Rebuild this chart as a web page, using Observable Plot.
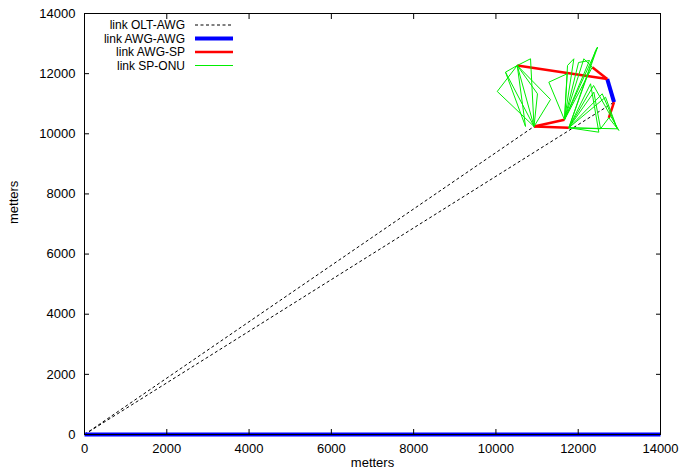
<!DOCTYPE html>
<html><head><meta charset="utf-8">
<script src="https://cdn.jsdelivr.net/npm/d3@7"></script>
<script src="https://cdn.jsdelivr.net/npm/@observablehq/plot@0.6"></script>
<style>body{margin:0;background:#fff}</style>
</head><body><div id="chart"></div>
<script>
const xTicks = [0, 2000, 4000, 6000, 8000, 10000, 12000, 14000];
const yTicks = [0, 2000, 4000, 6000, 8000, 10000, 12000, 14000];
const axisLabelX = "metters";
const axisLabelY = "metters";
const seriesNames = ["link OLT-AWG", "link AWG-AWG", "link AWG-SP", "link SP-ONU"];

// network nodes (metres)
const nodeNames = ["OLT","END","N1","N2","N3","N4","N5","N6","N7","N8","A","B","C","D","E","F","V1","V2","V3","V4","P","R1","R2","R3","R4","R5","R6","W1","W2","Q1","Q2","Q3","H","G"];
const nodeX = [0,14000,10518,12705,12871,12744,10926,11667,11772,12341,10841,10233,10032,11327,11733,11286,11740,11894,12137,12421,12470,12380,12664,12949,12543,12373,12988,12008,12275,12300,12584,12501,10719,11010];
const nodeY = [0,0,12271,11822,11051,10532,10243,10466,10200,12215,12494,12049,11407,11140,11996,11716,12271,12494,12494,12770,12880,11384,11217,10166,10166,11606,10110,12371,12438,11663,11330,10053,10243,11330];

const oltAwgLinks = [["OLT","N5"],["OLT","N3"]];
const awgAwgLinks = [["N2","N3"],["OLT","END"]];
const awgSpLinks = [["N1","N2"],["N8","N2"],["N3","N4"],["N5","N6"],["N5","N7"]];
const spOnuPaths = [
  ["N5","A","N1","B","N5"],
  ["N5","C","N1","D","N5"],
  ["N1","N5"],
  ["N1","H","B"],
  ["N1","G","N5"],
  ["N6","F","E","N6"],
  ["N6","V1","V2","N6"],
  ["N6","V3","N8","N6"],
  ["N6","W1","W2","N6"],
  ["N7","P","V4","N7"],
  ["N6","P"],
  ["N7","R1","R4","N7"],
  ["N7","R2","R3","N7"],
  ["N7","Q1","Q3","N7"],
  ["N7","Q2","R3"],
  ["N7","R5","R6"],
  ["N4","R4"],
  ["N4","R6"]
];

const idx = Object.fromEntries(nodeNames.map((n, i) => [n, i]));
const rows = paths => paths.flatMap((p, k) => p.map(n => ({k, x: nodeX[idx[n]], y: nodeY[idx[n]]})));

const styles = [
  {stroke: "black", strokeWidth: 1, strokeDasharray: "3,2.5", strokeLinecap: "butt"},
  {stroke: "#0000ff", strokeWidth: 4, strokeLinecap: "butt"},
  {stroke: "#ff0000", strokeWidth: 2.5, strokeLinecap: "butt"},
  {stroke: "#00ee00", strokeWidth: 1, strokeLinecap: "butt"}
];

const font = "'Liberation Sans', Arial, Helvetica, sans-serif";
const plot = Plot.plot({
  width: 681, height: 474,
  marginLeft: 84, marginRight: 21, marginTop: 13, marginBottom: 40,
  x: {domain: [0, 14000]},
  y: {domain: [0, 14000]},
  style: {fontFamily: font, fontSize: "13px", color: "black", background: "white"},
  marks: [
    Plot.line(rows(oltAwgLinks), {x: "x", y: "y", z: "k", ...styles[0]}),
    Plot.line(rows(awgAwgLinks), {x: "x", y: "y", z: "k", ...styles[1]}),
    Plot.line(rows(awgSpLinks), {x: "x", y: "y", z: "k", ...styles[2]}),
    Plot.line(rows(spOnuPaths), {x: "x", y: "y", z: "k", ...styles[3]}),
    Plot.frame({stroke: "black"}),
    Plot.axisX({ticks: xTicks, tickSize: -5, tickPadding: 14, tickFormat: d => String(d), label: null, fontSize: 13}),
    Plot.axisX({anchor: "top", ticks: xTicks, tickSize: -5, tickFormat: () => "", label: null}),
    Plot.axisY({ticks: yTicks, tickSize: -5, tickPadding: 14, tickFormat: d => String(d), label: null, fontSize: 13}),
    Plot.axisY({anchor: "right", ticks: yTicks, tickSize: -5, tickFormat: () => "", label: null}),
    Plot.text([axisLabelY], {frameAnchor: "left", dx: -71, rotate: -90, text: d => d, fontSize: 13}),
    Plot.text([axisLabelX], {frameAnchor: "bottom", dy: 32, text: d => d, fontSize: 13})
  ]
});

const svg = d3.select(plot);
const lg = svg.append("g").attr("font-family", font).attr("font-size", 12);
seriesNames.forEach((s, i) => {
  const yy = 25 + i * 13.5;
  lg.append("text").attr("x", 185).attr("y", yy).attr("dy", "0.35em")
    .attr("text-anchor", "end").attr("fill", "black").text(s);
  const st = styles[i];
  lg.append("line").attr("x1", 195).attr("x2", 233).attr("y1", yy).attr("y2", yy)
    .attr("stroke", st.stroke).attr("stroke-width", st.strokeWidth)
    .attr("stroke-dasharray", st.strokeDasharray || null);
});

document.getElementById("chart").appendChild(plot);
</script>
</body></html>
